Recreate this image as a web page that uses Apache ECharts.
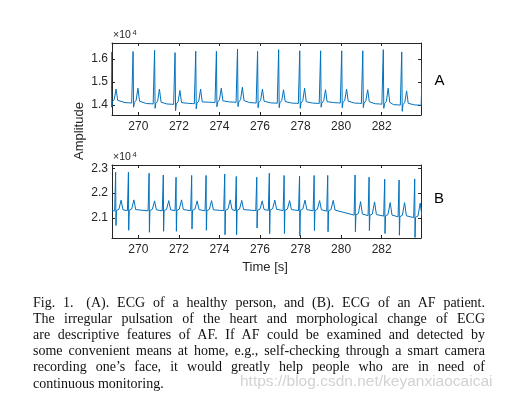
<!DOCTYPE html>
<html>
<head>
<meta charset="utf-8">
<script src="https://cdn.jsdelivr.net/npm/echarts@6/dist/echarts.min.js"></script>
<style>
  html, body { margin: 0; padding: 0; background: #fff; }
  #wrap { position: relative; width: 509px; height: 399px; overflow: hidden; }
  #chart { position: absolute; left: 0; top: 0; width: 509px; height: 399px; }
  #caption { position: absolute; left: 33px; top: 294.5px; width: 452px;
    font-family: 'Liberation Serif', 'Times New Roman', serif; font-size: 14px; line-height: 16.2px; color: #111; }
  #caption div { text-align: justify; text-align-last: justify; white-space: nowrap; }
  #caption div.last { text-align-last: left; }
  #mark { position: absolute; left: 240px; top: 372px; font-family: 'Liberation Sans', Arial, sans-serif;
    font-size: 15.5px; color: rgba(195,195,195,0.75); white-space: nowrap; }
</style>
</head>
<body>
<div id="wrap">
  <div id="chart"></div>
  <div id="caption">
    <div>Fig. 1.<span style="display:inline-block;width:5px"></span> (A). ECG of a healthy person, and (B). ECG of an AF patient.</div>
    <div>The irregular pulsation of the heart and morphological change of ECG</div>
    <div>are descriptive features of AF. If AF could be examined and detected by</div>
    <div>some convenient means at home, e.g., self-checking through a smart camera</div>
    <div>recording one’s face, it would greatly help people who are in need of</div>
    <div class="last">continuous monitoring.</div>
  </div>
  <div id="mark">https://blog.csdn.net/keyanxiaocaicai</div>
</div>
<script>
// time window and ticks
const X_MIN = 268.7, X_MAX = 283.94;
const xTicks = [270, 272, 274, 276, 278, 280, 282];
const yTicksA = [14000, 15000, 16000];
const yTicksB = [21000, 22000, 23000];

// (A) healthy: one entry per beat (first and last R fall outside the window)
const rTimeA = [268.66, 269.74, 270.80, 271.81, 272.83, 273.85, 274.89, 275.88, 276.92, 277.96, 278.99, 280.03, 281.07, 282.08, 282.99, 284.02];
const rPeakA = [16300, 16330, 16380, 16280, 16340, 16340, 16440, 16340, 16410, 16360, 16360, 16360, 16360, 16410, 16310, 16300];
const sLowA  = [13900, 13900, 13850, 13750, 13830, 13920, 13930, 13880, 13880, 13850, 13900, 13880, 13880, 13850, 13720, 13900];
const tPeakA = [14690, 14730, 14690, 14630, 14690, 14730, 14770, 14690, 14660, 14730, 14660, 14690, 14660, 14730, 14610, 14700];
const baseA  = [14120, 14080, 14040, 14020, 14050, 14100, 14110, 14080, 14070, 14060, 14060, 14080, 14060, 14030, 13990, 13980];

// (B) AF patient
const rTimeB = [268.88, 269.51, 270.53, 271.23, 271.86, 272.63, 273.34, 274.26, 274.83, 275.84, 276.46, 277.19, 277.95, 278.67, 279.34, 280.69, 281.38, 282.15, 282.86, 283.63];
const rPeakB = [22840, 22840, 22800, 22730, 22640, 22710, 22710, 22770, 22670, 22640, 22800, 22710, 22690, 22710, 22710, 22730, 22640, 22560, 22530, 22570];
const sLowB  = [20700, 20510, 20430, 20470, 20470, 20560, 20510, 20330, 20330, 20600, 20370, 20380, 20290, 20500, 20450, 20450, 20500, 20380, 20310, 20220];
const tPeakB = [21720, 21730, 21690, 21700, 21730, 21690, 21700, 21730, 21710, 21690, 21720, 21700, 21720, 21700, 21710, 21660, 21650, 21620, 21620, 21600];
const baseB  = [21290, 21300, 21290, 21290, 21300, 21300, 21290, 21300, 21300, 21300, 21310, 21300, 21300, 21290, 21280, 21120, 21100, 21080, 21050, 21020];

function traceA() {
  const pts = [];
  rTimeA.forEach((t, i) => {
    const b = baseA[i];
    pts.push([t - 0.40, b + 20], [t - 0.17, b + 10], [t - 0.12, b + 60], [t - 0.07, b], [t - 0.02, b - 20],
      [t, rPeakA[i]], [t + 0.025, sLowA[i]], [t + 0.06, b + 20], [t + 0.15, b + 120],
      [t + 0.24, tPeakA[i]], [t + 0.32, b + 80], [t + 0.40, b + 40]);
  });
  return pts;
}

function traceB() {
  const pts = [[X_MIN, baseB[0]]];
  rTimeB.forEach((t, i) => {
    const b = baseB[i];
    pts.push([t - 0.05, b], [t - 0.01, b - 30], [t, rPeakB[i]], [t + 0.015, sLowB[i]], [t + 0.04, b + 10],
      [t + 0.16, b + 60], [t + 0.27, tPeakB[i]], [t + 0.36, b + 40], [t + 0.45, b + 10]);
  });
  return pts;
}

const AX = '#262626';
const FONT = 'Liberation Sans, Arial, sans-serif';
const grids = [
  { left: 112, top: 43, width: 309, height: 72 },
  { left: 112, top: 165, width: 309, height: 73 }
];

function xAx(gi, pos) {
  return {
    type: 'value', gridIndex: gi, position: pos, min: X_MIN, max: X_MAX,
    axisLine: { show: true, onZero: false, lineStyle: { color: AX, width: 1 } },
    axisTick: { show: true, inside: true, length: 3, customValues: xTicks, lineStyle: { color: AX } },
    axisLabel: { show: pos === 'bottom', customValues: xTicks, color: AX, fontSize: 12, fontFamily: FONT, margin: 6 },
    splitLine: { show: false }
  };
}
function yAx(gi, pos, min, max, ticks) {
  return {
    type: 'value', gridIndex: gi, position: pos, min: min, max: max,
    axisLine: { show: true, onZero: false, lineStyle: { color: AX, width: 1 } },
    axisTick: { show: true, inside: true, length: 3, customValues: ticks, lineStyle: { color: AX } },
    axisLabel: { show: pos === 'left', customValues: ticks, color: AX, fontSize: 12, fontFamily: FONT, margin: 4,
      formatter: v => (v / 10000).toFixed(1) },
    splitLine: { show: false }
  };
}

const chart = echarts.init(document.getElementById('chart'), null, { renderer: 'canvas' });
const lineSty = { color: '#0072BD', width: 1 };
chart.setOption({
  animation: false,
  grid: grids,
  xAxis: [xAx(0, 'bottom'), xAx(0, 'top'), xAx(1, 'bottom'), xAx(1, 'top')],
  yAxis: [
    yAx(0, 'left', 13560, 16700, yTicksA), yAx(0, 'right', 13560, 16700, yTicksA),
    yAx(1, 'left', 20200, 23130, yTicksB), yAx(1, 'right', 20200, 23130, yTicksB)
  ],
  series: [
    { type: 'line', xAxisIndex: 0, yAxisIndex: 0, data: traceA(), showSymbol: false, symbol: 'none', lineStyle: lineSty, clip: true },
    { type: 'line', xAxisIndex: 2, yAxisIndex: 2, data: traceB(), showSymbol: false, symbol: 'none', lineStyle: lineSty, clip: true }
  ],
  graphic: [
    { type: 'text', x: 113, y: 40.5, style: { text: '×10', fontSize: 10.5, fontFamily: FONT, fill: AX, verticalAlign: 'bottom' } },
    { type: 'text', x: 132.5, y: 36.5, style: { text: '4', fontSize: 7.5, fontFamily: FONT, fill: AX, verticalAlign: 'bottom' } },
    { type: 'text', x: 113, y: 163, style: { text: '×10', fontSize: 10.5, fontFamily: FONT, fill: AX, verticalAlign: 'bottom' } },
    { type: 'text', x: 132.5, y: 159, style: { text: '4', fontSize: 7.5, fontFamily: FONT, fill: AX, verticalAlign: 'bottom' } },
    { type: 'text', x: 79, y: 131, rotation: Math.PI / 2,
      style: { text: 'Amplitude', fontSize: 13, fontFamily: FONT, fill: AX, align: 'center', verticalAlign: 'middle' } },
    { type: 'text', x: 265, y: 267, style: { text: 'Time [s]', fontSize: 13, fontFamily: FONT, fill: AX, align: 'center', verticalAlign: 'middle' } },
    { type: 'text', x: 439.5, y: 80.5, style: { text: 'A', fontSize: 15, fontFamily: FONT, fill: '#000', align: 'center', verticalAlign: 'middle' } },
    { type: 'text', x: 439, y: 199, style: { text: 'B', fontSize: 15, fontFamily: FONT, fill: '#000', align: 'center', verticalAlign: 'middle' } }
  ]
});
</script>
</body>
</html>
